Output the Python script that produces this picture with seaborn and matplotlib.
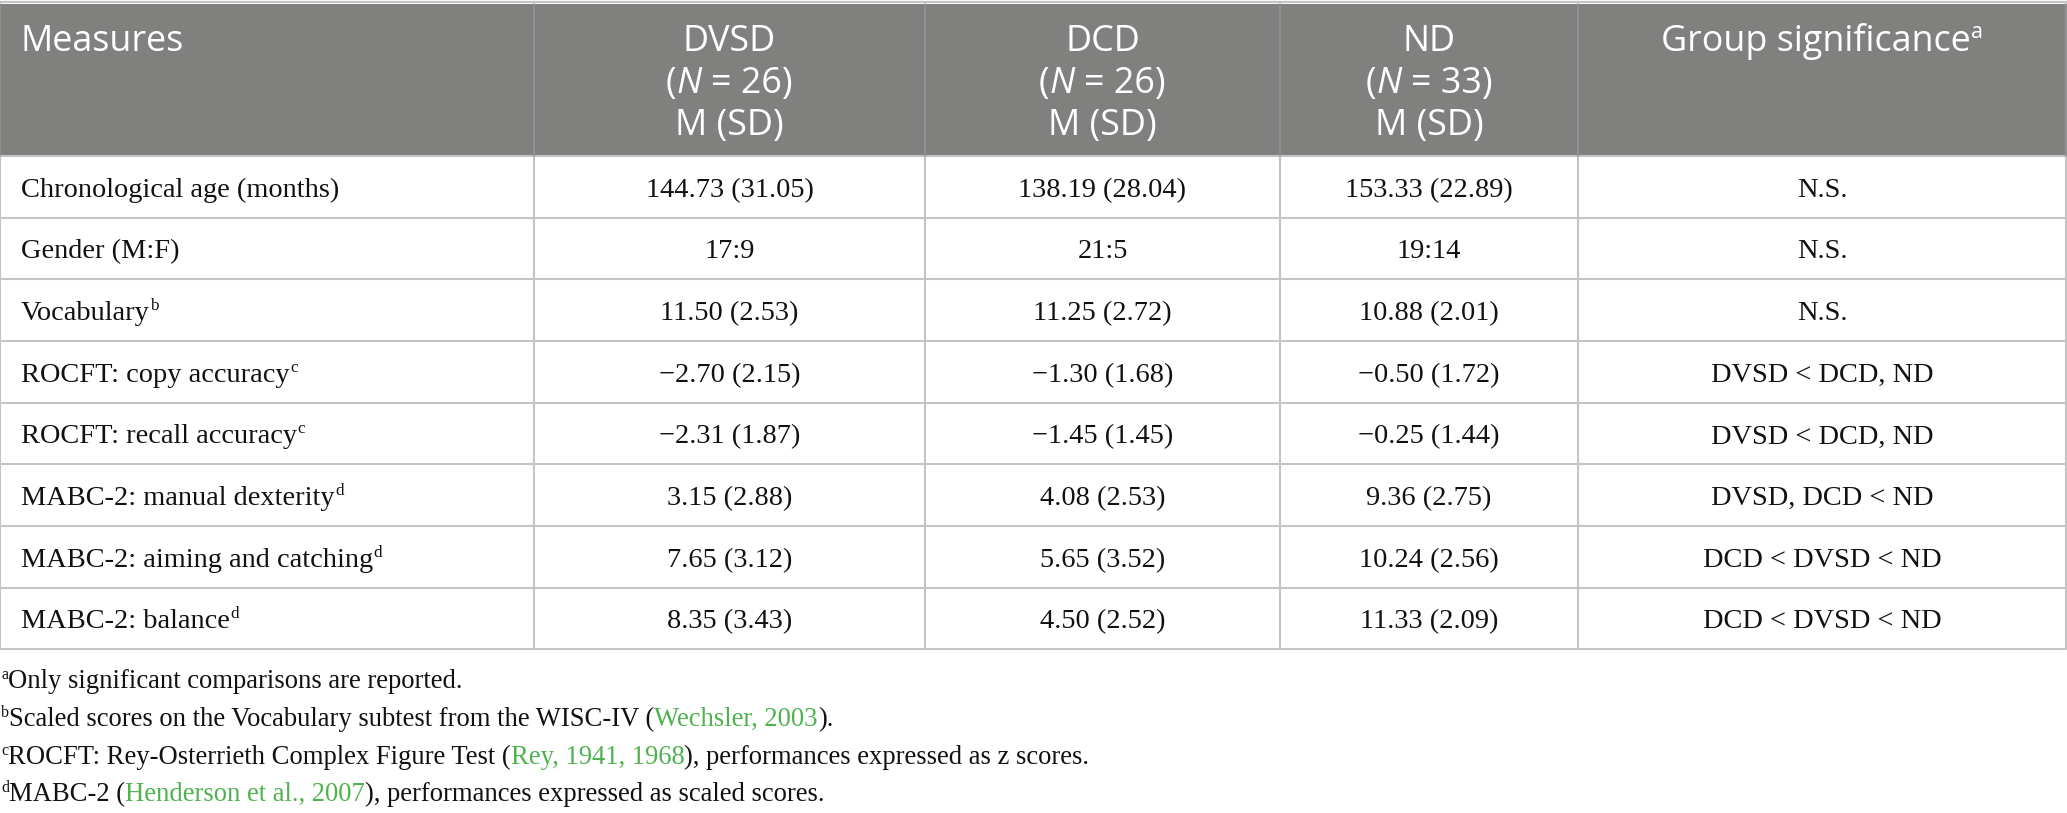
import matplotlib
matplotlib.use("Agg")
import matplotlib.pyplot as plt
import seaborn as sns

# --- Table content ---
groups = ["DVSD", "DCD", "ND"]
group_n = [26, 26, 33]

measures = [
    "Chronological age (months)",
    "Gender (M:F)",
    "Vocabulary",
    "ROCFT: copy accuracy",
    "ROCFT: recall accuracy",
    "MABC-2: manual dexterity",
    "MABC-2: aiming and catching",
    "MABC-2: balance",
]
measure_notes = ["", "", "b", "c", "c", "d", "d", "d"]

dvsd = ["144.73 (31.05)", "17:9", "11.50 (2.53)", "\u22122.70 (2.15)",
        "\u22122.31 (1.87)", "3.15 (2.88)", "7.65 (3.12)", "8.35 (3.43)"]
dcd = ["138.19 (28.04)", "21:5", "11.25 (2.72)", "\u22121.30 (1.68)",
       "\u22121.45 (1.45)", "4.08 (2.53)", "5.65 (3.52)", "4.50 (2.52)"]
nd = ["153.33 (22.89)", "19:14", "10.88 (2.01)", "\u22120.50 (1.72)",
      "\u22120.25 (1.44)", "9.36 (2.75)", "10.24 (2.56)", "11.33 (2.09)"]
significance = ["N.S.", "N.S.", "N.S.", "DVSD < DCD, ND", "DVSD < DCD, ND",
                "DVSD, DCD < ND", "DCD < DVSD < ND", "DCD < DVSD < ND"]

footnote_letters = ["a", "b", "c", "d"]
footnote_parts = [
    [("Only significant comparisons are reported.", False)],
    [("Scaled scores on the Vocabulary subtest from the WISC-IV (", False),
     ("Wechsler, 2003", True), (").", False)],
    [("ROCFT: Rey-Osterrieth Complex Figure Test (", False),
     ("Rey, 1941, 1968", True), ("), performances expressed as z scores.", False)],
    [("MABC-2 (", False), ("Henderson et al., 2007", True),
     ("), performances expressed as scaled scores.", False)],
]

# --- Style ---
sns.set_theme(style="white")
W, H, DPI = 2067, 813, 100
HEAD_BG = "#80817f"
LINE = "#c4c4c4"
GREEN = "#4fb24f"
INK = "#111111"
SERIF = ["Liberation Serif", "DejaVu Serif"]
SANS = ["Open Sans", "DejaVu Sans"]
BODY_FS = 20.4
HEAD_FS = 25.8
NOTE_FS = 19.2

col_edges = [0, 534, 925, 1280, 1578, 2066]
head_top, head_bot = 4, 156
row_h = 61.65

fig = plt.figure(figsize=(W / DPI, H / DPI), dpi=DPI)
ax = fig.add_axes([0, 0, 1, 1])
ax.set_xlim(0, W)
ax.set_ylim(H, 0)
ax.axis("off")
renderer = fig.canvas.get_renderer()


def text_width(s, **kw):
    t = ax.text(0, 0, s, **kw)
    w = t.get_window_extent(renderer).width
    t.remove()
    return w


def draw_runs(x, y, runs, ha="left"):
    # runs: (text, kwargs, dy, gap)
    widths = [text_width(s, **kw) for s, kw, dy, gap in runs]
    total = sum(widths) + sum(r[3] for r in runs)
    cur = x - total / 2 if ha == "center" else x
    for (s, kw, dy, gap), w in zip(runs, widths):
        cur += gap
        ax.text(cur, y + dy, s, ha="left", va="baseline", **kw)
        cur += w


# header background
ax.fill_between([0, W], head_top, head_bot, color=HEAD_BG, lw=0)
ax.plot([0, W], [2.5, 2.5], color=LINE, lw=1.6)

n_rows = len(measures)
row_edges = [head_bot + i * row_h for i in range(n_rows + 1)]

# grid lines
for y in row_edges:
    ax.plot([0, col_edges[-1]], [y, y], color=LINE, lw=1.5)
for x in col_edges:
    ax.plot([x, x], [head_bot, row_edges[-1]], color=LINE, lw=1.5)
    ax.plot([x, x], [head_top, head_bot], color="#959595", lw=1.2)

# header text
hkw = dict(family=SANS, fontsize=HEAD_FS, color="white")
ital = dict(family=SANS, fontsize=HEAD_FS, color="white", style="italic")
space_w = text_width("x x", **hkw) - text_width("xx", **hkw)
ax.text(21, 51, "Measures", ha="left", va="baseline", **hkw)
for i, (g, n) in enumerate(zip(groups, group_n)):
    cx = (col_edges[i + 1] + col_edges[i + 2]) / 2
    ax.text(cx, 51, g, ha="center", va="baseline", **hkw)
    draw_runs(cx, 93, [("(", hkw, 0, 0), ("N", ital, 0, 0),
                       ("= %d)" % n, hkw, 0, space_w)], ha="center")
    ax.text(cx, 135, "M (SD)", ha="center", va="baseline", **hkw)
cx = (col_edges[4] + col_edges[5]) / 2
sup_h = dict(family=SANS, fontsize=HEAD_FS * 0.6, color="white")
draw_runs(cx, 51, [("Group significance", hkw, 0, 0), ("a", sup_h, -13, 1)],
          ha="center")

# body
bkw = dict(family=SERIF, fontsize=BODY_FS, color=INK)
sup_b = dict(family=SERIF, fontsize=BODY_FS * 0.6, color=INK)
for r in range(n_rows):
    yb = (row_edges[r] + row_edges[r + 1]) / 2 + 10
    runs = [(measures[r], bkw, 0, 0)]
    if measure_notes[r]:
        runs.append((measure_notes[r], sup_b, -10, 0.5))
    draw_runs(21, yb, runs)
    for c, vals in enumerate([dvsd, dcd, nd, significance]):
        cx = (col_edges[c + 1] + col_edges[c + 2]) / 2
        ax.text(cx, yb, vals[r], ha="center", va="baseline", **bkw)

# footnotes
nkw = dict(family=SERIF, fontsize=NOTE_FS, color=INK)
gkw = dict(family=SERIF, fontsize=NOTE_FS, color=GREEN)
sup_n = dict(family=SERIF, fontsize=NOTE_FS * 0.6, color=INK)
note_y = [688, 726, 764, 801]
for letter, parts, y in zip(footnote_letters, footnote_parts, note_y):
    runs = [(letter, sup_n, -9, 0)]
    for s, link in parts:
        runs.append((s, gkw if link else nkw, 0, 0))
    draw_runs(1, y, runs)

fig.savefig("out.png", dpi=DPI)
